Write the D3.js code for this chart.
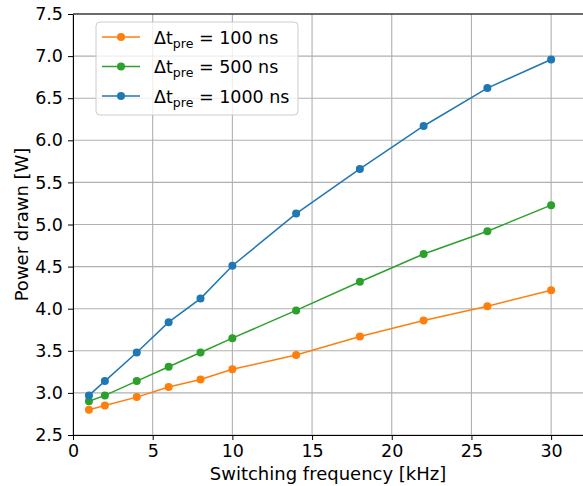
<!DOCTYPE html>
<html>
<head>
<meta charset="utf-8">
<script src="https://cdn.jsdelivr.net/npm/d3@7"></script>
<style>
  body { margin: 0; background: #fff; }
  svg { display: block; font-family: "DejaVu Sans", sans-serif; }
</style>
</head>
<body>
<script>
const width = 583;
const height = 486;
const margin = { top: 14, right: 0, bottom: 51, left: 73 };

// switching frequency [kHz]
const freqs = [1, 2, 4, 6, 8, 10, 14, 18, 22, 26, 30];
// power drawn [W] per pre-charge time
const power100 = [2.80, 2.85, 2.95, 3.07, 3.16, 3.28, 3.45, 3.67, 3.86, 4.03, 4.22];
const power500 = [2.90, 2.97, 3.14, 3.31, 3.48, 3.65, 3.98, 4.32, 4.65, 4.92, 5.23];
const power1000 = [2.97, 3.14, 3.48, 3.84, 4.12, 4.51, 5.13, 5.66, 6.17, 6.62, 6.96];
const xTicks = [0, 5, 10, 15, 20, 25, 30];
const yTicks = [2.5, 3.0, 3.5, 4.0, 4.5, 5.0, 5.5, 6.0, 6.5, 7.0, 7.5];

const series = [
    { sub: "pre", label: "100 ns", color: "#ff7f0e", values: power100 },
    { sub: "pre", label: "500 ns", color: "#2ca02c", values: power500 },
    { sub: "pre", label: "1000 ns", color: "#1f77b4", values: power1000 }
];

const svg = d3.select("body")
    .append("svg")
    .attr("width", width)
    .attr("height", height);

const x = d3.scaleLinear()
    .domain([0, 32])
    .range([margin.left, width - margin.right]);

const y = d3.scaleLinear()
    .domain([2.5, 7.5])
    .range([height - margin.bottom, margin.top]);

// grid
svg.append("g")
    .selectAll("line")
    .data(xTicks)
    .join("line")
    .attr("x1", d => x(d)).attr("x2", d => x(d))
    .attr("y1", y(2.5)).attr("y2", y(7.5))
    .attr("stroke", "#b0b0b0")
    .attr("stroke-width", 1.1);

svg.append("g")
    .selectAll("line")
    .data(yTicks)
    .join("line")
    .attr("x1", x(0)).attr("x2", x(32))
    .attr("y1", d => y(d)).attr("y2", d => y(d))
    .attr("stroke", "#b0b0b0")
    .attr("stroke-width", 1.1);

// axes
const xAxis = svg.append("g")
    .attr("transform", `translate(0,${y(2.5)})`)
    .call(d3.axisBottom(x).tickValues(xTicks).tickSize(5).tickPadding(5).tickSizeOuter(0));

const yAxis = svg.append("g")
    .attr("transform", `translate(${x(0)},0)`)
    .call(d3.axisLeft(y).tickValues(yTicks).tickFormat(d3.format(".1f")).tickSize(5).tickPadding(5).tickSizeOuter(0));

[xAxis, yAxis].forEach(g => {
    g.selectAll("text").attr("font-size", "17.5px").attr("font-family", "DejaVu Sans").attr("fill", "#000");
    g.selectAll("line").attr("stroke", "#000").attr("stroke-width", 1);
    g.select(".domain").attr("stroke", "#000").attr("stroke-width", 1);
});

// top spine
svg.append("line")
    .attr("x1", x(0)).attr("x2", x(32))
    .attr("y1", y(7.5)).attr("y2", y(7.5))
    .attr("stroke", "#000");

// axis labels
svg.append("text")
    .attr("x", (x(0) + x(32)) / 2)
    .attr("y", 480)
    .attr("text-anchor", "middle")
    .attr("font-size", "18px")
    .text("Switching frequency [kHz]");

svg.append("text")
    .attr("transform", `translate(28,${(y(2.5) + y(7.5)) / 2}) rotate(-90)`)
    .attr("text-anchor", "middle")
    .attr("font-size", "18px")
    .text("Power drawn [W]");

// lines + markers
const line = d3.line()
    .x((d, i) => x(freqs[i]))
    .y(d => y(d));

series.forEach(s => {
    svg.append("path")
        .datum(s.values)
        .attr("fill", "none")
        .attr("stroke", s.color)
        .attr("stroke-width", 1.5)
        .attr("d", line);

    svg.append("g")
        .selectAll("circle")
        .data(s.values)
        .join("circle")
        .attr("cx", (d, i) => x(freqs[i]))
        .attr("cy", d => y(d))
        .attr("r", 4)
        .attr("fill", s.color);
});

// legend
const legend = svg.append("g");
legend.append("rect")
    .attr("x", 96).attr("y", 22)
    .attr("width", 202).attr("height", 93)
    .attr("rx", 4)
    .attr("fill", "#fff")
    .attr("fill-opacity", 0.8)
    .attr("stroke", "#cccccc");

series.forEach((s, i) => {
    const ly = 37 + i * 29.5;
    legend.append("line")
        .attr("x1", 102).attr("x2", 140)
        .attr("y1", ly).attr("y2", ly)
        .attr("stroke", s.color)
        .attr("stroke-width", 1.5);
    legend.append("circle")
        .attr("cx", 121).attr("cy", ly).attr("r", 4)
        .attr("fill", s.color);
    const t = legend.append("text")
        .attr("x", 154).attr("y", ly + 6.5)
        .attr("font-size", "17.5px");
    t.append("tspan").text("Δt");
    t.append("tspan").attr("font-size", "12.5px").attr("dy", 4).text(s.sub);
    t.append("tspan").attr("dy", -4).text(" = " + s.label);
});
</script>
</body>
</html>
